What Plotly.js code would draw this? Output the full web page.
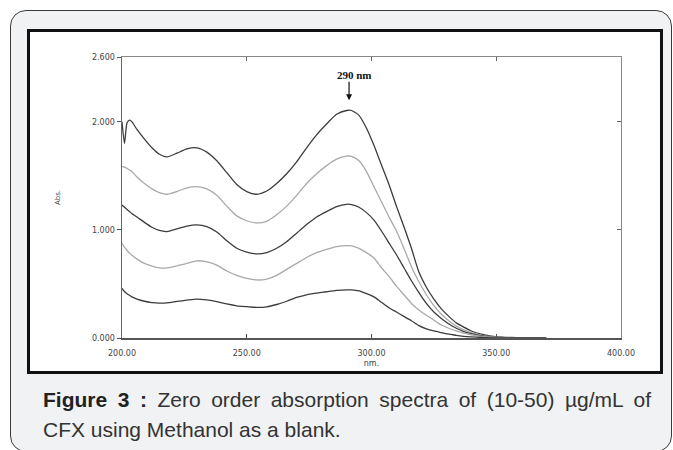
<!DOCTYPE html>
<html>
<head>
<meta charset="utf-8">
<script src="https://cdn.plot.ly/plotly-3.0.1.min.js"></script>
<style>
  html, body { margin:0; padding:0; background:#ffffff; width:673px; height:450px; overflow:hidden; }
  #outer { position:absolute; left:10px; top:10px; width:662px; height:442px; box-sizing:border-box;
           border:1px solid #3a3a3a; border-radius:16px; background:#f1f2f4; }
  #frame { position:absolute; left:27px; top:29px; width:636px; height:345px; box-sizing:border-box;
           border:3px solid #111; background:#ffffff; }
  #chart { position:absolute; left:0; top:0; width:673px; height:450px; }
  #caption { position:absolute; left:43px; top:385px; width:608px; font-family:"Liberation Sans", Arial, sans-serif;
             font-size:21px; line-height:30px; color:#333; }
  #caption .l1 { text-align:justify; text-align-last:justify; white-space:nowrap; display:block; }
  #caption .l2 { text-align:left; display:block; }
  #caption b { color:#222; }
</style>
</head>
<body>
<div id="outer"></div>
<div id="frame"></div>
<div id="chart"></div>
<div id="caption"><span class="l1"><b>Figure 3 :</b> Zero order absorption spectra of (10-50) µg/mL of</span><span class="l2">CFX using Methanol as a blank.</span></div>
<script>
// Wavelength (nm)
const wavelength = [200,201,202,203,204,206,209,212,215,218,222,226,230,234,238,242,246,250,254,258,262,266,270,274,278,282,286,290,292,295,298,301,304,307,310,313,316,319,322,325,328,331,334,337,340,344,348,352,356,360,365,370];

// Absorbance for each concentration
const abs50 = [2.00,1.80,1.99,2.015,2.00,1.93,1.84,1.76,1.70,1.675,1.71,1.75,1.76,1.72,1.64,1.53,1.42,1.355,1.33,1.36,1.43,1.52,1.63,1.76,1.88,1.98,2.07,2.105,2.105,2.06,1.94,1.78,1.60,1.42,1.22,1.03,0.83,0.61,0.47,0.36,0.27,0.20,0.14,0.10,0.065,0.035,0.018,0.009,0.005,0.003,0.002,0.0];
const abs40 = [1.585,1.58,1.57,1.555,1.54,1.49,1.43,1.38,1.345,1.33,1.355,1.39,1.40,1.38,1.32,1.22,1.13,1.085,1.065,1.08,1.14,1.22,1.32,1.43,1.52,1.595,1.655,1.683,1.68,1.64,1.54,1.40,1.26,1.12,0.99,0.83,0.66,0.52,0.40,0.30,0.22,0.16,0.11,0.075,0.05,0.025,0.012,0.006,0.003,0.002,0.001,0.0];
const abs30 = [1.23,1.21,1.19,1.17,1.15,1.12,1.07,1.025,0.995,0.985,1.01,1.035,1.046,1.03,0.98,0.90,0.83,0.795,0.778,0.79,0.83,0.89,0.97,1.05,1.12,1.17,1.215,1.237,1.235,1.21,1.16,1.09,0.99,0.88,0.77,0.65,0.53,0.42,0.32,0.24,0.18,0.13,0.09,0.06,0.04,0.02,0.01,0.005,0.002,0.001,0.0,0.0];
const abs20 = [0.877,0.84,0.81,0.785,0.765,0.73,0.69,0.665,0.648,0.648,0.667,0.69,0.714,0.705,0.675,0.62,0.58,0.552,0.537,0.545,0.58,0.635,0.69,0.745,0.79,0.82,0.845,0.855,0.853,0.83,0.79,0.74,0.65,0.57,0.48,0.40,0.32,0.26,0.21,0.165,0.12,0.09,0.065,0.045,0.03,0.015,0.008,0.004,0.002,0.001,0.0,0.0];
const abs10 = [0.46,0.43,0.41,0.395,0.38,0.36,0.34,0.328,0.323,0.325,0.338,0.35,0.36,0.352,0.337,0.315,0.298,0.29,0.283,0.288,0.31,0.34,0.375,0.40,0.415,0.428,0.44,0.446,0.445,0.435,0.41,0.38,0.33,0.28,0.24,0.20,0.16,0.115,0.085,0.065,0.05,0.035,0.025,0.015,0.01,0.005,0.002,0.001,0.0,0.0,0.0,0.0];

// Tick labels
const xTickVals = [200,250,300,350,400];
const xTickText = ['200.00','250.00','300.00','350.00','400.00'];
const yTickVals = [0,1,2,2.6];
const yTickText = ['0.000','1.000','2.000','2.600'];
const peakLabel = '290 nm';
const peakWavelength = 291;

const dark = '#3c3c3c', light = '#a9a9a9';
function tr(y, color, xa, ya) {
  return {x: wavelength, y: y, type:'scatter', mode:'lines', xaxis:xa, yaxis:ya,
          line:{color:color, width:1.3, shape:'spline', smoothing:0.6}, hoverinfo:'skip'};
}
const data = [
  tr(abs50, dark, 'x', 'y'),
  tr(abs40, light, 'x', 'y'),
  tr(abs30, dark, 'x', 'y'),
  tr(abs20, light, 'x', 'y'),
  tr(abs10, dark, 'x2', 'y2')
];

const tickFont = {family:'DejaVu Sans, Verdana, sans-serif', size:8, color:'#444'};
const layout = {
  width:673, height:450,
  margin:{l:122, r:52, t:57, b:112, pad:0},
  paper_bgcolor:'rgba(0,0,0,0)', plot_bgcolor:'rgba(0,0,0,0)',
  showlegend:false,
  xaxis:{range:[200,400], tickmode:'array', tickvals:xTickVals, ticktext:xTickText,
         ticks:'inside', ticklen:4, tickwidth:1, tickcolor:'#555',
         showline:true, linecolor:'#555', linewidth:1.5, showgrid:false, zeroline:false,
         tickfont:tickFont, ticklabelstandoff:7, automargin:false,
         title:{text:'nm.', font:tickFont, standoff:3}},
  yaxis:{range:[0,2.6], tickmode:'array', tickvals:yTickVals, ticktext:yTickText,
         ticks:'outside', ticklen:4, tickwidth:1, tickcolor:'#555',
         showline:true, linecolor:'#666', linewidth:1.5, showgrid:false, zeroline:false,
         tickfont:tickFont, automargin:false,
         title:{text:'Abs.', font:{family:'DejaVu Sans, Verdana, sans-serif', size:7, color:'#444'}, standoff:30}},
  xaxis2:{overlaying:'x', anchor:'y2', side:'top', range:[200,400], tickmode:'array', tickvals:[250,300,350],
          ticks:'inside', ticklen:4, tickcolor:'#666', showticklabels:false,
          showline:true, linecolor:'#888', linewidth:1, showgrid:false, zeroline:false},
  yaxis2:{overlaying:'y', anchor:'x2', side:'right', range:[0,2.6], tickmode:'array', tickvals:[1,2],
          ticks:'inside', ticklen:4, tickcolor:'#666', showticklabels:false,
          showline:true, linecolor:'#888', linewidth:1, showgrid:false, zeroline:false},
  annotations:[
    {xref:'x', yref:'y', x:peakWavelength, y:2.2, ax:0, ay:-20, text:'', showarrow:true,
     arrowhead:2, arrowsize:1, arrowwidth:1.2, arrowcolor:'#111'},
    {xref:'x', yref:'y', x:293, y:2.43, text:'<b>'+peakLabel+'</b>', showarrow:false,
     font:{family:'Liberation Serif, Times New Roman, serif', size:11, color:'#111'}}
  ]
};
Plotly.newPlot('chart', data, layout, {displayModeBar:false, staticPlot:true});
</script>
</body>
</html>
